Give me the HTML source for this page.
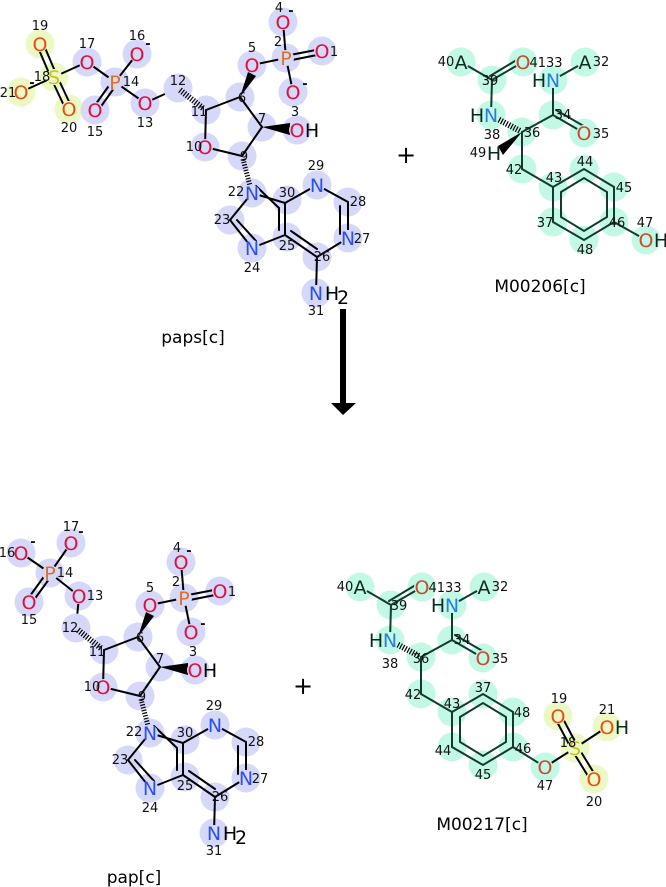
<!DOCTYPE html>
<html><head><meta charset="utf-8">
<style>
html,body{margin:0;padding:0;background:#fff;}
svg{display:block;font-family:"DejaVu Sans","Liberation Sans",sans-serif;}
.l{fill:#d6d8fa}.t{fill:#c2f9e5}.y{fill:#ebfac4}
circle[r="13"]{r:14.5px}
.b{stroke:#000;stroke-width:2;fill:none;stroke-linecap:round}
.bt{stroke:#123a30;stroke-width:2;fill:none;stroke-linecap:round}
.h{stroke:#000;stroke-width:6;stroke-dasharray:1.2,1.6;fill:none}
.a{font-size:19px;text-anchor:middle}
.n{font-size:13px;fill:#111;text-anchor:middle}
.O{fill:#e0103a}.N{fill:#2a50f0}.P{fill:#e07020}.S{fill:#c4c41c}.Os{fill:#f04a10}
.O2{fill:#c84a2e}.N2{fill:#2a7de1}.K{fill:#0c2a20}
.lab{font-size:17px;text-anchor:middle;fill:#000}
</style></head><body>
<svg width="666" height="887" viewBox="0 0 666 887">

<!-- ============ PAPS: phosphosulfate part ============ -->
<g>
<circle class="y" cx="40" cy="44" r="13"/><circle class="y" cx="21" cy="92" r="13"/>
<circle class="y" cx="54" cy="77" r="13"/><circle class="y" cx="69" cy="109" r="13"/>
<circle class="l" cx="87" cy="62" r="13"/><circle class="l" cx="137" cy="54" r="13"/>
<circle class="l" cx="115" cy="82" r="13"/><circle class="l" cx="95" cy="110" r="13"/>
<circle class="l" cx="145" cy="103" r="13"/>
<line class="b" x1="57" y1="76" x2="43" y2="43"/><line class="b" x1="51" y1="78" x2="37" y2="45"/>
<line class="b" x1="57" y1="76" x2="72" y2="108"/><line class="b" x1="51" y1="78" x2="66" y2="110"/>
<line class="b" x1="54" y1="77" x2="21" y2="92"/>
<line class="b" x1="54" y1="77" x2="87" y2="62"/>
<line class="b" x1="87" y1="62" x2="115" y2="82"/>
<line class="b" x1="115" y1="82" x2="137" y2="54"/>
<line class="b" x1="117" y1="84" x2="97" y2="112"/><line class="b" x1="113" y1="80" x2="93" y2="108"/>
<line class="b" x1="115" y1="82" x2="145" y2="103"/>
<line class="b" x1="145" y1="103" x2="178" y2="88"/>
<circle class="y" cx="40" cy="44" r="8"/><circle class="y" cx="21" cy="92" r="8"/>
<circle class="y" cx="54" cy="77" r="8"/><circle class="y" cx="69" cy="109" r="8"/>
<circle class="l" cx="87" cy="62" r="8"/><circle class="l" cx="137" cy="54" r="8"/>
<circle class="l" cx="115" cy="82" r="8"/><circle class="l" cx="95" cy="110" r="8"/>
<circle class="l" cx="145" cy="103" r="8"/>
<text class="a Os" x="40" y="51">O</text><text class="a Os" x="21" y="99">O</text>
<text class="a S" x="54" y="84">S</text><text class="a Os" x="69" y="116">O</text>
<text class="a O" x="87" y="69">O</text><text class="a O" x="137" y="61">O</text>
<text class="a P" x="115" y="89">P</text><text class="a O" x="95" y="117">O</text>
<text class="a O" x="145" y="110">O</text>
<text class="n" x="40" y="30">19</text><text class="n" x="87" y="48">17</text>
<text class="n" x="137" y="40">16</text><text class="n" x="42" y="81">18</text>
<text class="n" x="131" y="86">14</text><text class="n" x="8" y="97">21</text>
<text class="n" x="69" y="132">20</text><text class="n" x="95" y="136">15</text>
<text class="n" x="145" y="127">13</text>
<text class="n" x="148" y="48" style="font-weight:bold">-</text>
<text class="n" x="32" y="87" style="font-weight:bold">-</text>
</g>

<!-- ============ PAPS nucleoside core ============ -->
<g id="coreTop">
<circle class="l" cx="178" cy="88" r="13"/><circle class="l" cx="206" cy="110" r="13"/>
<circle class="l" cx="240" cy="97" r="13"/><circle class="l" cx="252" cy="65" r="13"/>
<circle class="l" cx="286" cy="58" r="13"/><circle class="l" cx="283" cy="22" r="13"/>
<circle class="l" cx="322" cy="51" r="13"/><circle class="l" cx="293" cy="92" r="13"/>
<circle class="l" cx="262" cy="127" r="13"/><circle class="l" cx="297" cy="130" r="13"/>
<circle class="l" cx="205" cy="147" r="13"/><circle class="l" cx="242" cy="156" r="13"/>
<circle class="l" cx="252" cy="193" r="13"/><circle class="l" cx="230" cy="220" r="13"/>
<circle class="l" cx="252" cy="248" r="13"/><circle class="l" cx="287" cy="200" r="13"/>
<circle class="l" cx="287" cy="237" r="13"/><circle class="l" cx="317" cy="185" r="13"/>
<circle class="l" cx="348" cy="202" r="13"/><circle class="l" cx="348" cy="238" r="13"/>
<circle class="l" cx="317" cy="257" r="13"/><circle class="l" cx="316" cy="293" r="13"/>
<line class="h" x1="180" y1="90" x2="204" y2="109"/>
<line class="b" x1="206" y1="110" x2="240" y2="97"/>
<line class="b" x1="206" y1="110" x2="205" y2="147"/>
<polygon points="240,97 248,72 256,76" fill="#000"/>
<line class="b" x1="252" y1="65" x2="286" y2="58"/>
<line class="b" x1="286" y1="58" x2="283" y2="22"/>
<line class="b" x1="287" y1="61" x2="322" y2="54"/><line class="b" x1="285" y1="56" x2="321" y2="49"/>
<line class="b" x1="286" y1="58" x2="293" y2="92"/>
<line class="b" x1="240" y1="97" x2="262" y2="127"/>
<polygon points="262,127 290,123 290,135" fill="#000"/>
<line class="b" x1="262" y1="127" x2="242" y2="156"/>
<line class="b" x1="242" y1="156" x2="205" y2="147"/>
<line class="h" x1="243" y1="159" x2="250" y2="186" style="stroke-width:5"/>
<line class="b" x1="252" y1="193" x2="285" y2="203"/>
<line class="b" x1="256" y1="186" x2="279" y2="208"/>
<line class="b" x1="285" y1="203" x2="285" y2="235"/>
<line class="b" x1="279" y1="208" x2="279" y2="230"/>
<line class="b" x1="285" y1="235" x2="252" y2="248"/>
<line class="b" x1="252" y1="248" x2="230" y2="220"/>
<line class="b" x1="256" y1="241" x2="237" y2="220"/>
<line class="b" x1="230" y1="220" x2="252" y2="193"/>
<line class="b" x1="285" y1="203" x2="317" y2="185"/>
<line class="b" x1="317" y1="185" x2="348" y2="202"/>
<line class="b" x1="348" y1="202" x2="348" y2="238"/>
<line class="b" x1="340" y1="206" x2="340" y2="234"/>
<line class="b" x1="348" y1="238" x2="317" y2="257"/>
<line class="b" x1="317" y1="257" x2="285" y2="235"/>
<line class="b" x1="317" y1="249" x2="291" y2="231"/>
<line class="b" x1="317" y1="257" x2="316" y2="293"/>
<circle class="l" cx="252" cy="65" r="8"/><circle class="l" cx="286" cy="58" r="8"/>
<circle class="l" cx="283" cy="22" r="8"/><circle class="l" cx="322" cy="51" r="8"/>
<circle class="l" cx="293" cy="92" r="8"/><circle class="l" cx="297" cy="130" r="8"/>
<circle class="l" cx="205" cy="147" r="8"/><circle class="l" cx="252" cy="193" r="8"/>
<circle class="l" cx="252" cy="248" r="8"/><circle class="l" cx="317" cy="185" r="8"/>
<circle class="l" cx="348" cy="238" r="8"/><circle class="l" cx="316" cy="293" r="8"/>
<text class="a O" x="252" y="72">O</text><text class="a P" x="286" y="65">P</text>
<text class="a O" x="283" y="29">O</text><text class="a O" x="322" y="58">O</text>
<text class="a O" x="293" y="99">O</text>
<text class="a O" x="297" y="137">O</text><text class="a" x="312" y="137">H</text>
<text class="a O" x="205" y="154">O</text>
<text class="a N" x="252" y="200">N</text><text class="a N" x="252" y="255">N</text>
<text class="a N" x="317" y="192">N</text><text class="a N" x="348" y="245">N</text>
<text class="a N" x="316" y="300">N</text><text class="a" x="332" y="300">H</text><text class="a" x="343" y="304">2</text>
<text class="n" x="178" y="85">12</text><text class="n" x="199" y="116">11</text>
<text class="n" x="242" y="102">6</text><text class="n" x="252" y="52">5</text>
<text class="n" x="279" y="12">4</text><text class="n" x="278" y="46">2</text>
<text class="n" x="334" y="56">1</text><text class="n" x="295" y="116">3</text>
<text class="n" x="262" y="123">7</text><text class="n" x="194" y="151">10</text>
<text class="n" x="244" y="161">9</text><text class="n" x="236" y="196">22</text>
<text class="n" x="287" y="197">30</text><text class="n" x="316" y="170">29</text>
<text class="n" x="358" y="206">28</text><text class="n" x="362" y="243">27</text>
<text class="n" x="322" y="261">26</text><text class="n" x="287" y="250">25</text>
<text class="n" x="222" y="224">23</text><text class="n" x="252" y="272">24</text>
<text class="n" x="316" y="315">31</text>
<text class="n" x="291" y="15" style="font-weight:bold">-</text>
<text class="n" x="305" y="88" style="font-weight:bold">-</text>
</g>

<text class="lab" x="193" y="343">paps[c]</text>
<text x="406" y="163" style="font-size:24px;text-anchor:middle">+</text>

<!-- arrow -->
<rect x="340" y="309" width="6" height="95" fill="#000"/>
<polygon points="331,403 356,403 343,415" fill="#000"/>

<!-- ============ M00206 ============ -->
<g>
<circle class="t" cx="461" cy="62" r="13"/><circle class="t" cx="523" cy="62" r="13"/>
<circle class="t" cx="492" cy="80" r="13"/><circle class="t" cx="553" cy="80" r="13"/>
<circle class="t" cx="585" cy="62" r="13"/><circle class="t" cx="491" cy="115" r="13"/>
<circle class="t" cx="553" cy="115" r="13"/><circle class="t" cx="522" cy="132" r="13"/>
<circle class="t" cx="584" cy="133" r="13"/><circle class="t" cx="522" cy="169" r="13"/>
<circle class="t" cx="553" cy="187" r="13"/><circle class="t" cx="584" cy="169" r="13"/>
<circle class="t" cx="614" cy="187" r="13"/><circle class="t" cx="614" cy="222" r="13"/>
<circle class="t" cx="584" cy="240" r="13"/><circle class="t" cx="553" cy="222" r="13"/>
<circle class="t" cx="646" cy="240" r="13"/>
<line class="bt" x1="461" y1="62" x2="492" y2="80"/>
<line class="bt" x1="492" y1="80" x2="523" y2="62"/><line class="bt" x1="490" y1="76" x2="520" y2="58"/>
<line class="bt" x1="492" y1="80" x2="491" y2="115"/>
<line class="h" x1="494" y1="117" x2="520" y2="131"/>
<line class="bt" x1="522" y1="132" x2="553" y2="115"/>
<line class="bt" x1="553" y1="115" x2="553" y2="80"/>
<line class="bt" x1="553" y1="80" x2="585" y2="62"/>
<line class="bt" x1="553" y1="115" x2="584" y2="133"/><line class="bt" x1="556" y1="110" x2="587" y2="128"/>
<polygon points="522,132 498,146 503,155" fill="#000"/>
<line class="bt" x1="522" y1="132" x2="522" y2="169"/>
<line class="bt" x1="522" y1="169" x2="553" y2="187"/>
<polygon class="bt" points="553,187 584,169 614,187 614,222 584,240 553,222"/>
<polygon class="bt" points="561,192 584,178 607,192 607,217 584,231 561,217"/>
<line class="bt" x1="614" y1="222" x2="646" y2="240"/>
<circle class="t" cx="461" cy="62" r="8"/><circle class="t" cx="523" cy="62" r="8"/>
<circle class="t" cx="553" cy="80" r="8"/><circle class="t" cx="585" cy="62" r="8"/>
<circle class="t" cx="491" cy="115" r="8"/><circle class="t" cx="584" cy="133" r="8"/>
<circle class="t" cx="646" cy="240" r="8"/>
<text class="a K" x="461" y="69">A</text><text class="a O2" x="523" y="69">O</text>
<text class="a K" x="539" y="87">H</text><text class="a N2" x="553" y="87">N</text>
<text class="a K" x="585" y="69">A</text>
<text class="a K" x="477" y="122">H</text><text class="a N2" x="491" y="122">N</text>
<text class="a O2" x="584" y="140">O</text>
<text class="a K" x="494" y="160">H</text>
<text class="a O2" x="646" y="247">O</text><text class="a K" x="661" y="247">H</text>
<text class="n" x="446" y="66">40</text><text class="n" x="546" y="67">4133</text>
<text class="n" x="601" y="66">32</text><text class="n" x="490" y="85">39</text>
<text class="n" x="492" y="139">38</text><text class="n" x="532" y="137">36</text>
<text class="n" x="563" y="119">34</text><text class="n" x="601" y="138">35</text>
<text class="n" x="478" y="157">49</text><text class="n" x="514" y="174">42</text>
<text class="n" x="554" y="182">43</text><text class="n" x="585" y="166">44</text>
<text class="n" x="624" y="192">45</text><text class="n" x="617" y="227">46</text>
<text class="n" x="545" y="227">37</text><text class="n" x="585" y="254">48</text>
<text class="n" x="645" y="227">47</text>
</g>
<text class="lab" x="540" y="292">M00206[c]</text>

<!-- ============ PAP: phosphate part ============ -->
<g>
<circle class="l" cx="21" cy="553" r="13"/><circle class="l" cx="71" cy="543" r="13"/>
<circle class="l" cx="50" cy="573" r="13"/><circle class="l" cx="29" cy="602" r="13"/>
<circle class="l" cx="79" cy="596" r="13"/>
<line class="b" x1="50" y1="573" x2="21" y2="553"/>
<line class="b" x1="50" y1="573" x2="71" y2="543"/>
<line class="b" x1="52" y1="575" x2="31" y2="604"/><line class="b" x1="48" y1="571" x2="27" y2="600"/>
<line class="b" x1="50" y1="573" x2="79" y2="596"/>
<line class="b" x1="79" y1="596" x2="76" y2="628"/>
<circle class="l" cx="21" cy="553" r="8"/><circle class="l" cx="71" cy="543" r="8"/>
<circle class="l" cx="50" cy="573" r="8"/><circle class="l" cx="29" cy="602" r="8"/>
<circle class="l" cx="79" cy="596" r="8"/>
<text class="a O" x="21" y="560">O</text><text class="a O" x="71" y="550">O</text>
<text class="a P" x="50" y="580">P</text><text class="a O" x="29" y="609">O</text>
<text class="a O" x="79" y="603">O</text>
<text class="n" x="71" y="531">17</text><text class="n" x="7" y="557">16</text>
<text class="n" x="65" y="577">14</text><text class="n" x="95" y="600">13</text>
<text class="n" x="29" y="624">15</text>
<text class="n" x="33" y="546" style="font-weight:bold">-</text>
<text class="n" x="81" y="536" style="font-weight:bold">-</text>
</g>

<!-- ============ PAP nucleoside core (shifted copy) ============ -->
<g transform="translate(-102,540)">
<circle class="l" cx="178" cy="88" r="13"/><circle class="l" cx="206" cy="110" r="13"/>
<circle class="l" cx="240" cy="97" r="13"/><circle class="l" cx="252" cy="65" r="13"/>
<circle class="l" cx="286" cy="58" r="13"/><circle class="l" cx="283" cy="22" r="13"/>
<circle class="l" cx="322" cy="51" r="13"/><circle class="l" cx="293" cy="92" r="13"/>
<circle class="l" cx="262" cy="127" r="13"/><circle class="l" cx="297" cy="130" r="13"/>
<circle class="l" cx="205" cy="147" r="13"/><circle class="l" cx="242" cy="156" r="13"/>
<circle class="l" cx="252" cy="193" r="13"/><circle class="l" cx="230" cy="220" r="13"/>
<circle class="l" cx="252" cy="248" r="13"/><circle class="l" cx="287" cy="200" r="13"/>
<circle class="l" cx="287" cy="237" r="13"/><circle class="l" cx="317" cy="185" r="13"/>
<circle class="l" cx="348" cy="202" r="13"/><circle class="l" cx="348" cy="238" r="13"/>
<circle class="l" cx="317" cy="257" r="13"/><circle class="l" cx="316" cy="293" r="13"/>
<line class="h" x1="180" y1="90" x2="204" y2="109"/>
<line class="b" x1="206" y1="110" x2="240" y2="97"/>
<line class="b" x1="206" y1="110" x2="205" y2="147"/>
<polygon points="240,97 248,72 256,76" fill="#000"/>
<line class="b" x1="252" y1="65" x2="286" y2="58"/>
<line class="b" x1="286" y1="58" x2="283" y2="22"/>
<line class="b" x1="287" y1="61" x2="322" y2="54"/><line class="b" x1="285" y1="56" x2="321" y2="49"/>
<line class="b" x1="286" y1="58" x2="293" y2="92"/>
<line class="b" x1="240" y1="97" x2="262" y2="127"/>
<polygon points="262,127 290,123 290,135" fill="#000"/>
<line class="b" x1="262" y1="127" x2="242" y2="156"/>
<line class="b" x1="242" y1="156" x2="205" y2="147"/>
<line class="h" x1="243" y1="159" x2="250" y2="186" style="stroke-width:5"/>
<line class="b" x1="252" y1="193" x2="285" y2="203"/>
<line class="b" x1="256" y1="186" x2="279" y2="208"/>
<line class="b" x1="285" y1="203" x2="285" y2="235"/>
<line class="b" x1="279" y1="208" x2="279" y2="230"/>
<line class="b" x1="285" y1="235" x2="252" y2="248"/>
<line class="b" x1="252" y1="248" x2="230" y2="220"/>
<line class="b" x1="256" y1="241" x2="237" y2="220"/>
<line class="b" x1="230" y1="220" x2="252" y2="193"/>
<line class="b" x1="285" y1="203" x2="317" y2="185"/>
<line class="b" x1="317" y1="185" x2="348" y2="202"/>
<line class="b" x1="348" y1="202" x2="348" y2="238"/>
<line class="b" x1="340" y1="206" x2="340" y2="234"/>
<line class="b" x1="348" y1="238" x2="317" y2="257"/>
<line class="b" x1="317" y1="257" x2="285" y2="235"/>
<line class="b" x1="317" y1="249" x2="291" y2="231"/>
<line class="b" x1="317" y1="257" x2="316" y2="293"/>
<circle class="l" cx="252" cy="65" r="8"/><circle class="l" cx="286" cy="58" r="8"/>
<circle class="l" cx="283" cy="22" r="8"/><circle class="l" cx="322" cy="51" r="8"/>
<circle class="l" cx="293" cy="92" r="8"/><circle class="l" cx="297" cy="130" r="8"/>
<circle class="l" cx="205" cy="147" r="8"/><circle class="l" cx="252" cy="193" r="8"/>
<circle class="l" cx="252" cy="248" r="8"/><circle class="l" cx="317" cy="185" r="8"/>
<circle class="l" cx="348" cy="238" r="8"/><circle class="l" cx="316" cy="293" r="8"/>
<text class="a O" x="252" y="72">O</text><text class="a P" x="286" y="65">P</text>
<text class="a O" x="283" y="29">O</text><text class="a O" x="322" y="58">O</text>
<text class="a O" x="293" y="99">O</text>
<text class="a O" x="297" y="137">O</text><text class="a" x="312" y="137">H</text>
<text class="a O" x="205" y="154">O</text>
<text class="a N" x="252" y="200">N</text><text class="a N" x="252" y="255">N</text>
<text class="a N" x="317" y="192">N</text><text class="a N" x="348" y="245">N</text>
<text class="a N" x="316" y="300">N</text><text class="a" x="332" y="300">H</text><text class="a" x="343" y="304">2</text>
<text class="n" x="172" y="92">12</text><text class="n" x="199" y="116">11</text>
<text class="n" x="242" y="102">6</text><text class="n" x="252" y="52">5</text>
<text class="n" x="279" y="12">4</text><text class="n" x="278" y="46">2</text>
<text class="n" x="334" y="56">1</text><text class="n" x="295" y="116">3</text>
<text class="n" x="262" y="123">7</text><text class="n" x="194" y="151">10</text>
<text class="n" x="244" y="161">9</text><text class="n" x="236" y="196">22</text>
<text class="n" x="287" y="197">30</text><text class="n" x="316" y="170">29</text>
<text class="n" x="358" y="206">28</text><text class="n" x="362" y="243">27</text>
<text class="n" x="322" y="261">26</text><text class="n" x="287" y="250">25</text>
<text class="n" x="222" y="224">23</text><text class="n" x="252" y="272">24</text>
<text class="n" x="316" y="315">31</text>
<text class="n" x="291" y="15" style="font-weight:bold">-</text>
<text class="n" x="305" y="88" style="font-weight:bold">-</text>
</g>

<text class="lab" x="134" y="883">pap[c]</text>
<text x="303" y="694" style="font-size:24px;text-anchor:middle">+</text>

<!-- ============ M00217 ============ -->
<g transform="translate(-101,525)">
<circle class="t" cx="461" cy="62" r="13"/><circle class="t" cx="523" cy="62" r="13"/>
<circle class="t" cx="492" cy="80" r="13"/><circle class="t" cx="553" cy="80" r="13"/>
<circle class="t" cx="585" cy="62" r="13"/><circle class="t" cx="491" cy="115" r="13"/>
<circle class="t" cx="553" cy="115" r="13"/><circle class="t" cx="522" cy="132" r="13"/>
<circle class="t" cx="584" cy="133" r="13"/><circle class="t" cx="522" cy="169" r="13"/>
<circle class="t" cx="553" cy="187" r="13"/><circle class="t" cx="584" cy="169" r="13"/>
<circle class="t" cx="614" cy="187" r="13"/><circle class="t" cx="614" cy="222" r="13"/>
<circle class="t" cx="584" cy="240" r="13"/><circle class="t" cx="553" cy="222" r="13"/>
<circle class="t" cx="646" cy="242" r="13"/>
<circle class="y" cx="676" cy="223" r="13"/><circle class="y" cx="659" cy="191" r="13"/>
<circle class="y" cx="708" cy="202" r="13"/><circle class="y" cx="695" cy="254" r="13"/>
<line class="bt" x1="461" y1="62" x2="492" y2="80"/>
<line class="bt" x1="492" y1="80" x2="523" y2="62"/><line class="bt" x1="490" y1="76" x2="520" y2="58"/>
<line class="bt" x1="492" y1="80" x2="491" y2="115"/>
<line class="h" x1="494" y1="117" x2="520" y2="131"/>
<line class="bt" x1="522" y1="132" x2="553" y2="115"/>
<line class="bt" x1="553" y1="115" x2="553" y2="80"/>
<line class="bt" x1="553" y1="80" x2="585" y2="62"/>
<line class="bt" x1="553" y1="115" x2="584" y2="133"/><line class="bt" x1="556" y1="110" x2="587" y2="128"/>
<line class="bt" x1="522" y1="132" x2="522" y2="169"/>
<line class="bt" x1="522" y1="169" x2="553" y2="187"/>
<polygon class="bt" points="553,187 584,169 614,187 614,222 584,240 553,222"/>
<polygon class="bt" points="561,192 584,178 607,192 607,217 584,231 561,217"/>
<line class="bt" x1="614" y1="222" x2="646" y2="242"/>
<line class="b" x1="646" y1="242" x2="676" y2="223"/>
<line class="b" x1="679" y1="222" x2="662" y2="190"/><line class="b" x1="673" y1="225" x2="656" y2="193"/>
<line class="b" x1="679" y1="222" x2="698" y2="253"/><line class="b" x1="673" y1="225" x2="692" y2="256"/>
<line class="b" x1="676" y1="223" x2="708" y2="202"/>
<circle class="t" cx="461" cy="62" r="8"/><circle class="t" cx="523" cy="62" r="8"/>
<circle class="t" cx="553" cy="80" r="8"/><circle class="t" cx="585" cy="62" r="8"/>
<circle class="t" cx="491" cy="115" r="8"/><circle class="t" cx="584" cy="133" r="8"/>
<circle class="t" cx="646" cy="242" r="8"/>
<circle class="y" cx="676" cy="223" r="8"/><circle class="y" cx="659" cy="191" r="8"/>
<circle class="y" cx="708" cy="202" r="8"/><circle class="y" cx="695" cy="254" r="8"/>
<text class="a K" x="461" y="69">A</text><text class="a O2" x="523" y="69">O</text>
<text class="a K" x="539" y="87">H</text><text class="a N2" x="553" y="87">N</text>
<text class="a K" x="585" y="69">A</text>
<text class="a K" x="477" y="122">H</text><text class="a N2" x="491" y="122">N</text>
<text class="a O2" x="584" y="140">O</text>
<text class="a O2" x="646" y="249">O</text>
<text class="a S" x="676" y="230">S</text><text class="a Os" x="659" y="198">O</text>
<text class="a Os" x="708" y="209">O</text><text class="a K" x="723" y="209">H</text>
<text class="a Os" x="695" y="261">O</text>
<text class="n" x="446" y="66">40</text><text class="n" x="546" y="67">4133</text>
<text class="n" x="601" y="66">32</text><text class="n" x="500" y="85">39</text>
<text class="n" x="491" y="143">38</text><text class="n" x="522" y="138">36</text>
<text class="n" x="563" y="119">34</text><text class="n" x="601" y="138">35</text>
<text class="n" x="514" y="174">42</text><text class="n" x="553" y="183">43</text>
<text class="n" x="584" y="167">37</text><text class="n" x="623" y="192">48</text>
<text class="n" x="544" y="230">44</text><text class="n" x="584" y="254">45</text>
<text class="n" x="624" y="228">46</text><text class="n" x="646" y="265">47</text>
<text class="n" x="660" y="178">19</text><text class="n" x="669" y="222">18</text>
<text class="n" x="708" y="189">21</text><text class="n" x="695" y="281">20</text>
</g>
<text class="lab" x="482" y="830">M00217[c]</text>

</svg>
</body></html>
